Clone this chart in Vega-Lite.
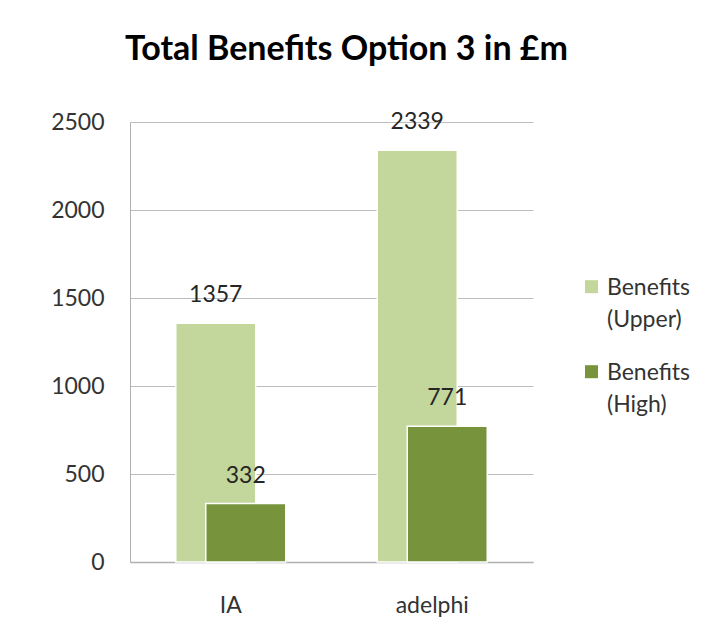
{
  "$schema": "https://vega.github.io/schema/vega-lite/v6.json",
  "autosize": {"type": "none"},
  "width": 403,
  "height": 440,
  "padding": {"left": 130, "top": 122, "right": 182, "bottom": 77},
  "background": "#ffffff",
  "title": {
    "text": "Total Benefits Option 3 in £m",
    "font": "Lato",
    "fontSize": 34,
    "fontWeight": "bold",
    "color": "#000000",
    "anchor": "middle",
    "dx": 15,
    "offset": 44
  },
  "data": {
    "values": [
      {"site": "IA", "series": "Benefits (Upper)", "value": 1357},
      {"site": "IA", "series": "Benefits (High)", "value": 332},
      {"site": "adelphi", "series": "Benefits (Upper)", "value": 2339},
      {"site": "adelphi", "series": "Benefits (High)", "value": 771}
    ]
  },
  "encoding": {
    "x": {
      "field": "site",
      "type": "nominal",
      "sort": ["IA", "adelphi"],
      "axis": {
        "title": null,
        "labelAngle": 0,
        "labelFont": "Lato",
        "labelFontSize": 23,
        "labelColor": "#333333",
        "labelPadding": 32,
        "ticks": false,
        "domainColor": "#b0b0b0",
        "domainWidth": 1.5
      }
    },
    "y": {
      "field": "value",
      "type": "quantitative",
      "scale": {"domain": [0, 2500], "nice": false},
      "axis": {
        "title": null,
        "values": [0, 500, 1000, 1500, 2000, 2500],
        "format": "d",
        "labelFont": "Lato",
        "labelFontSize": 23,
        "labelColor": "#333333",
        "labelPadding": 26,
        "ticks": false,
        "domainColor": "#b0b0b0",
        "gridColor": "#bdbdbd",
        "gridWidth": 1.2
      }
    }
  },
  "layer": [
    {
      "transform": [{"filter": "datum.series === 'Benefits (Upper)'"}],
      "mark": {"type": "bar", "width": 80, "xOffset": -15, "stroke": "#ffffff", "strokeWidth": 1.5},
      "encoding": {
        "color": {
          "field": "series",
          "type": "nominal",
          "scale": {"domain": ["Benefits (Upper)", "Benefits (High)"], "range": ["#c3d69b", "#77933c"]},
          "legend": {
            "title": null,
            "orient": "none",
            "legendX": 450,
            "legendY": 161,
            "padding": 0,
            "symbolType": "M-1,-2.2H1V-0.2H-1Z",
            "symbolSize": 169,
            "symbolStrokeWidth": 0,
            "labelFont": "Lato",
            "labelFontSize": 23,
            "labelColor": "#333333",
            "labelLimit": 200,
            "labelOffset": 4,
            "labelExpr": "split(datum.label, ' ')",
            "labelBaseline": "alphabetic",
            "rowPadding": 29
          }
        }
      }
    },
    {
      "transform": [{"filter": "datum.series === 'Benefits (Upper)'"}],
      "mark": {"type": "text", "xOffset": -15, "dy": -28, "baseline": "middle", "font": "Lato", "fontSize": 23, "color": "#262626"},
      "encoding": {"text": {"field": "value", "type": "quantitative"}}
    },
    {
      "transform": [{"filter": "datum.series === 'Benefits (High)'"}],
      "mark": {"type": "bar", "width": 80, "xOffset": 15, "stroke": "#ffffff", "strokeWidth": 1.5},
      "encoding": {
        "color": {"field": "series", "type": "nominal"}
      }
    },
    {
      "transform": [{"filter": "datum.series === 'Benefits (High)'"}],
      "mark": {"type": "text", "xOffset": 15, "dy": -28, "baseline": "middle", "font": "Lato", "fontSize": 23, "color": "#262626"},
      "encoding": {"text": {"field": "value", "type": "quantitative"}}
    }
  ],
  "config": {
    "view": {"stroke": null},
    "style": {"guide-label": {"lineHeight": 32}}
  }
}
